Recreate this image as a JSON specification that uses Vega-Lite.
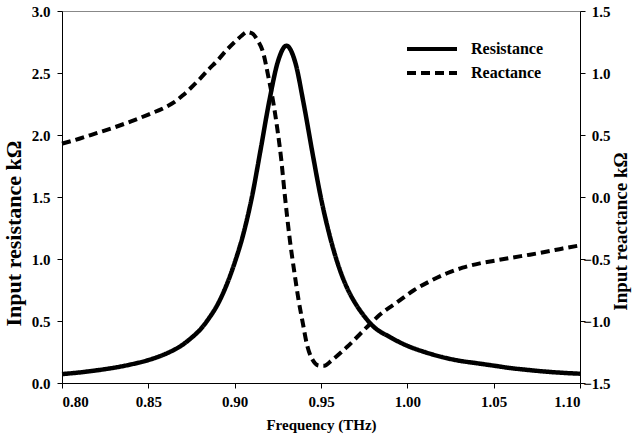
{
  "$schema": "https://vega.github.io/schema/vega-lite/v6.json",
  "width": 518,
  "height": 372,
  "autosize": "none",
  "padding": {"left": 62, "top": 11, "right": 52, "bottom": 56},
  "background": "white",
  "config": {
    "view": {"stroke": "#888888", "strokeWidth": 1},
    "font": "Liberation Serif",
    "axis": {
      "labelFont": "Liberation Serif", "labelFontWeight": "bold", "labelFontSize": 15, "labelColor": "black",
      "titleFont": "Liberation Serif", "titleFontWeight": "bold", "titleFontSize": 16, "titleColor": "black",
      "domainColor": "black", "tickColor": "black", "grid": false, "tickSize": 5
    }
  },
  "datasets": {
    "res": [
      {"f": 0.800, "v": 0.072}, {"f": 0.810, "v": 0.085}, {"f": 0.820, "v": 0.102}, {"f": 0.830, "v": 0.123},
      {"f": 0.840, "v": 0.15}, {"f": 0.850, "v": 0.185}, {"f": 0.860, "v": 0.235}, {"f": 0.870, "v": 0.31},
      {"f": 0.875, "v": 0.365}, {"f": 0.880, "v": 0.43}, {"f": 0.885, "v": 0.52}, {"f": 0.890, "v": 0.63},
      {"f": 0.895, "v": 0.78}, {"f": 0.900, "v": 0.97}, {"f": 0.905, "v": 1.20}, {"f": 0.910, "v": 1.50},
      {"f": 0.915, "v": 1.88}, {"f": 0.920, "v": 2.27}, {"f": 0.925, "v": 2.59}, {"f": 0.930, "v": 2.72},
      {"f": 0.935, "v": 2.59}, {"f": 0.940, "v": 2.25}, {"f": 0.945, "v": 1.86}, {"f": 0.950, "v": 1.49},
      {"f": 0.955, "v": 1.19}, {"f": 0.960, "v": 0.95}, {"f": 0.965, "v": 0.77}, {"f": 0.970, "v": 0.64},
      {"f": 0.975, "v": 0.54}, {"f": 0.980, "v": 0.46}, {"f": 0.990, "v": 0.37}, {"f": 1.000, "v": 0.30},
      {"f": 1.010, "v": 0.25}, {"f": 1.020, "v": 0.21}, {"f": 1.030, "v": 0.18}, {"f": 1.040, "v": 0.16},
      {"f": 1.050, "v": 0.14}, {"f": 1.060, "v": 0.12}, {"f": 1.070, "v": 0.105}, {"f": 1.080, "v": 0.092},
      {"f": 1.090, "v": 0.082}, {"f": 1.100, "v": 0.075}
    ],
    "rea": [
      {"f": 0.800, "v": 0.43}, {"f": 0.810, "v": 0.47}, {"f": 0.820, "v": 0.515}, {"f": 0.830, "v": 0.56},
      {"f": 0.840, "v": 0.61}, {"f": 0.850, "v": 0.665}, {"f": 0.860, "v": 0.725}, {"f": 0.865, "v": 0.765},
      {"f": 0.870, "v": 0.82}, {"f": 0.875, "v": 0.885}, {"f": 0.880, "v": 0.955}, {"f": 0.885, "v": 1.03},
      {"f": 0.890, "v": 1.10}, {"f": 0.895, "v": 1.18}, {"f": 0.900, "v": 1.25}, {"f": 0.904, "v": 1.30},
      {"f": 0.907, "v": 1.33}, {"f": 0.910, "v": 1.32}, {"f": 0.913, "v": 1.27}, {"f": 0.9166, "v": 1.16},
      {"f": 0.9195, "v": 0.97}, {"f": 0.9224, "v": 0.76}, {"f": 0.9247, "v": 0.55}, {"f": 0.927, "v": 0.30},
      {"f": 0.929, "v": 0.02}, {"f": 0.932, "v": -0.35}, {"f": 0.9345, "v": -0.60}, {"f": 0.937, "v": -0.83},
      {"f": 0.9395, "v": -1.02}, {"f": 0.9417, "v": -1.18}, {"f": 0.9446, "v": -1.30}, {"f": 0.949, "v": -1.36},
      {"f": 0.952, "v": -1.36}, {"f": 0.956, "v": -1.32}, {"f": 0.965, "v": -1.21}, {"f": 0.978, "v": -1.03},
      {"f": 0.984, "v": -0.95}, {"f": 0.994, "v": -0.85}, {"f": 1.004, "v": -0.75}, {"f": 1.013, "v": -0.68},
      {"f": 1.023, "v": -0.615}, {"f": 1.032, "v": -0.57}, {"f": 1.042, "v": -0.535}, {"f": 1.052, "v": -0.51},
      {"f": 1.061, "v": -0.488}, {"f": 1.071, "v": -0.465}, {"f": 1.081, "v": -0.44}, {"f": 1.090, "v": -0.415},
      {"f": 1.100, "v": -0.39}
    ]
  },
  "layer": [
    {
      "data": {"name": "res"},
      "transform": [{"calculate": "'Resistance'", "as": "series"}],
      "mark": {"type": "line", "color": "black", "strokeWidth": 4.5, "interpolate": "monotone"},
      "encoding": {
        "x": {"field": "f", "type": "quantitative", "scale": {"domain": [0.8, 1.1], "nice": false, "zero": false},
          "axis": {"title": "Frequency (THz)", "values": [0.8, 0.85, 0.9, 0.95, 1.0, 1.05, 1.1], "format": ".2f", "labelPadding": 6, "titlePadding": 8, "titleFontSize": 15}},
        "y": {"field": "v", "type": "quantitative", "scale": {"domain": [0, 3], "nice": false},
          "axis": {"title": "Input resistance kΩ", "values": [0, 0.5, 1, 1.5, 2, 2.5, 3], "format": ".1f", "labelPadding": 7, "titlePadding": 6, "titleFontSize": 22, "titleY": 222}},
        "strokeDash": {"field": "series", "type": "nominal",
          "scale": {"domain": ["Resistance", "Reactance"], "range": [[1, 0], [9, 5]]},
          "legend": {"title": null, "orient": "none", "legendX": 362, "legendY": 30, "symbolType": "M-5,0H5", "symbolSize": 100, "symbolStrokeWidth": 4, "symbolStrokeColor": "black", "labelFont": "Liberation Serif", "labelFontWeight": "bold", "labelFontSize": 16, "labelColor": "black", "labelOffset": 31, "rowPadding": 8}}
      }
    },
    {
      "data": {"name": "rea"},
      "transform": [{"calculate": "'Reactance'", "as": "series"}],
      "mark": {"type": "line", "color": "black", "strokeWidth": 4, "interpolate": "monotone"},
      "encoding": {
        "x": {"field": "f", "type": "quantitative"},
        "y": {"field": "v", "type": "quantitative", "scale": {"domain": [-1.5, 1.5], "nice": false, "zero": false},
          "axis": {"orient": "right", "title": "Input reactance kΩ", "values": [-1.5, -1, -0.5, 0, 0.5, 1, 1.5], "format": ".1f", "labelAlign": "right", "labelPadding": 25, "titlePadding": 1, "titleAngle": 270, "titleBaseline": "top", "titleFontSize": 19, "titleY": 220}},
        "strokeDash": {"field": "series", "type": "nominal"}
      }
    }
  ],
  "resolve": {"scale": {"y": "independent"}}
}
